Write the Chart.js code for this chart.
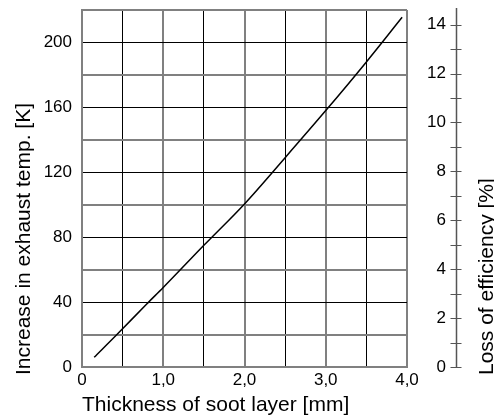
<!DOCTYPE html>
<html>
<head>
<meta charset="utf-8">
<script src="https://cdn.jsdelivr.net/npm/chart.js@4.4.1/dist/chart.umd.min.js"></script>
<style>
  html, body { margin: 0; padding: 0; background: #fff; }
  #wrap { width: 494px; height: 416px; }
</style>
</head>
<body>
<div id="wrap"><canvas id="chart"></canvas></div>
<script>
// values
const thickness = [0.15, 0.43, 0.8, 1.0, 1.5, 2.0, 2.5, 3.0, 3.5, 3.94];
const tempRise = [6, 20, 39, 49, 75, 100.5, 129, 158, 188, 215.5];
const tempLabels = [0, 40, 80, 120, 160, 200];
const thicknessLabels = ['0', '1,0', '2,0', '3,0', '4,0'];
const lossLabels = [0, 2, 4, 6, 8, 10, 12, 14];

const FONT = "'Liberation Sans', Arial, sans-serif";
const GRAY = '#808080';

// fixed box sizes, no automatic label padding
function fixBox(size) {
    return s => {
        if (s.isHorizontal()) s.height = size; else s.width = size;
        s.paddingTop = 0;
        s.paddingBottom = 0;
        s.paddingLeft = 0;
        s.paddingRight = 0;
    };
}

// right axis line with cross ticks + the two vertical titles
const sidePlugin = {
    id: 'sidePlugin',
    afterDraw(chart) {
        const ctx = chart.ctx;
        const area = chart.chartArea;
        const yr = chart.scales.yr;
        const ax = area.right + 49.5;

        ctx.save();
        ctx.strokeStyle = '#555';
        ctx.lineWidth = 1.5;
        ctx.beginPath();
        ctx.moveTo(ax, area.top - 2);
        ctx.lineTo(ax, yr.getPixelForValue(0));
        ctx.stroke();
        ctx.lineWidth = 1;
        yr.ticks.forEach(t => {
            if (!Number.isInteger(t.value)) return;
            const py = Math.round(yr.getPixelForValue(t.value)) + 0.5;
            ctx.beginPath();
            ctx.moveTo(ax - 6, py);
            ctx.lineTo(ax + 5, py);
            ctx.stroke();
        });

        ctx.fillStyle = '#000';
        ctx.font = '21px ' + FONT;
        ctx.textAlign = 'left';
        ctx.textBaseline = 'alphabetic';

        ctx.save();
        ctx.translate(30, 375);
        ctx.rotate(-Math.PI / 2);
        ctx.fillText('Increase in exhaust temp. [K]', 0, 0);
        ctx.restore();

        ctx.save();
        ctx.translate(493, 375);
        ctx.rotate(-Math.PI / 2);
        ctx.fillText('Loss of efficiency [%]', 0, 0);
        ctx.restore();

        ctx.restore();
    }
};

new Chart(document.getElementById('chart'), {
    type: 'line',
    data: {
        datasets: [{
            data: thickness.map((x, i) => ({ x: x, y: tempRise[i] })),
            borderColor: '#000',
            borderWidth: 1.5,
            pointRadius: 0,
            cubicInterpolationMode: 'monotone',
            fill: false
        }]
    },
    options: {
        responsive: true,
        maintainAspectRatio: false,
        animation: false,
        layout: { padding: { top: 10, left: 0, right: 48, bottom: 0 } },
        plugins: { legend: { display: false }, tooltip: { enabled: false } },
        scales: {
            x: {
                type: 'linear',
                min: 0,
                max: 4,
                afterFit: fixBox(49),
                ticks: {
                    stepSize: 0.5,
                    color: '#000',
                    font: { family: FONT, size: 17 },
                    padding: 3,
                    maxRotation: 0,
                    autoSkip: false,
                    callback: v => Number.isInteger(v) ? thicknessLabels[v] : ''
                },
                grid: {
                    drawTicks: false,
                    color: c => Number.isInteger(c.tick.value) ? GRAY : '#000',
                    lineWidth: c => Number.isInteger(c.tick.value) ? 2 : 1
                },
                border: { display: true, color: GRAY, width: 2 },
                title: {
                    display: true,
                    text: 'Thickness of soot layer [mm]',
                    align: 'start',
                    color: '#000',
                    font: { family: FONT, size: 21, lineHeight: 1 },
                    padding: { top: 0, bottom: 0 }
                }
            },
            y: {
                position: 'left',
                min: 0,
                max: 220,
                afterFit: fixBox(82),
                ticks: {
                    stepSize: 20,
                    color: '#000',
                    font: { family: FONT, size: 17 },
                    padding: 10,
                    autoSkip: false,
                    callback: v => tempLabels.includes(v) ? String(v) : ''
                },
                grid: {
                    drawTicks: false,
                    color: c => tempLabels.includes(c.tick.value) ? '#000' : GRAY,
                    lineWidth: c => tempLabels.includes(c.tick.value) ? 1 : 2
                },
                border: { display: true, color: GRAY, width: 2 }
            },
            yr: {
                position: 'right',
                min: 0,
                max: 14.6,
                afterFit: fixBox(39),
                ticks: {
                    stepSize: 1,
                    includeBounds: false,
                    color: '#000',
                    font: { family: FONT, size: 17 },
                    padding: 0,
                    crossAlign: 'far',
                    autoSkip: false,
                    callback: v => lossLabels.includes(v) ? String(v) : ''
                },
                grid: { drawOnChartArea: false, drawTicks: false },
                border: { display: false }
            }
        }
    },
    plugins: [sidePlugin]
});
</script>
</body>
</html>
